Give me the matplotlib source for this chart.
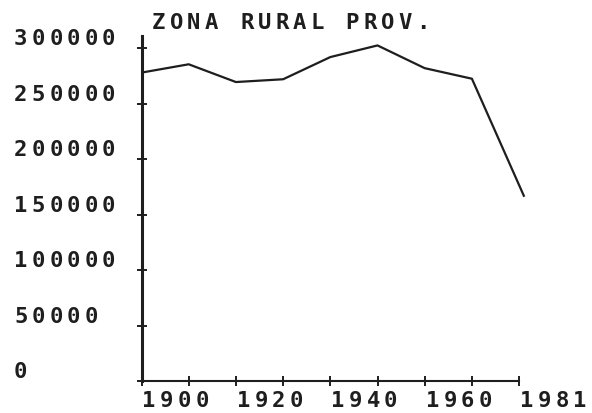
import matplotlib
matplotlib.use("Agg")
import matplotlib.pyplot as plt
from matplotlib.transforms import blended_transform_factory, offset_copy

# ---- data ----
years = [1900, 1910, 1920, 1930, 1940, 1950, 1960, 1970, 1981]
population = [278000, 285500, 269500, 272000, 292000, 302500, 282000, 272500, 167000]
y_ticks = [0, 50000, 100000, 150000, 200000, 250000, 300000]
y_tick_labels = ["0", "50000", "100000", "150000", "200000", "250000", "300000"]
x_ticks = [1900, 1910, 1920, 1930, 1940, 1950, 1960, 1970, 1980]
x_label_pos = [1900, 1920, 1940, 1960, 1980]
x_label_text = ["1900", "1920", "1940", "1960", "1981"]
title = "ZONA RURAL PROV."

W, H = 592, 414
DPI = 100
INK = "#1e1e1e"
FONT = dict(family="DejaVu Sans Mono", fontsize=16, color=INK, weight="bold")
ADV = 17.6  # character advance in pixels (wide dot-matrix spacing)

fig = plt.figure(figsize=(W / DPI, H / DPI), dpi=DPI)
fig.patch.set_facecolor("white")

px_per_year = 4.72
x0_px, y0_px, ytop_px = 141.5, 382, 37
ax = fig.add_axes([x0_px / W, (H - y0_px) / H, 83 * px_per_year / W, (y0_px - ytop_px) / H])
ax.set_xlim(1900, 1983)
ax.set_ylim(0, 311000)

ax.plot(years, population, color=INK, lw=1.6, solid_joinstyle="round")

for s in ("top", "right"):
    ax.spines[s].set_visible(False)
ax.spines["left"].set_linewidth(2.2)
ax.spines["left"].set_color(INK)
ax.spines["bottom"].set_linewidth(1.5)
ax.spines["bottom"].set_color(INK)
ax.spines["bottom"].set_bounds(1900, 1980)

ax.set_xticks(x_ticks)
ax.set_yticks(y_ticks)
ax.tick_params(direction="inout", length=7, width=1.4, color=INK,
               labelbottom=False, labelleft=False)

# y tick labels: left-aligned near figure left edge, raised above tick
ytrans = blended_transform_factory(fig.transFigure, ax.transData)
for v, lab in zip(y_ticks, y_tick_labels):
    for i, ch in enumerate(lab):
        t = offset_copy(ytrans, fig=fig, x=14 + i * ADV, y=10, units="dots")
        ax.text(0, v, ch, transform=t, ha="left", va="center", clip_on=False, **FONT)

# x tick labels: left-aligned at their tick, below axis
for v, lab in zip(x_label_pos, x_label_text):
    for i, ch in enumerate(lab):
        t = offset_copy(ax.get_xaxis_transform(), fig=fig, x=1 + i * ADV, y=-19, units="dots")
        ax.text(v, 0, ch, transform=t, ha="left", va="center", clip_on=False, **FONT)

# title
for i, ch in enumerate(title):
    t = offset_copy(fig.transFigure, fig=fig, x=152 + i * ADV, y=H - 23, units="dots")
    fig.text(0, 0, ch, transform=t, ha="left", va="center", **FONT)

fig.savefig("out.png", dpi=DPI, facecolor="white")
